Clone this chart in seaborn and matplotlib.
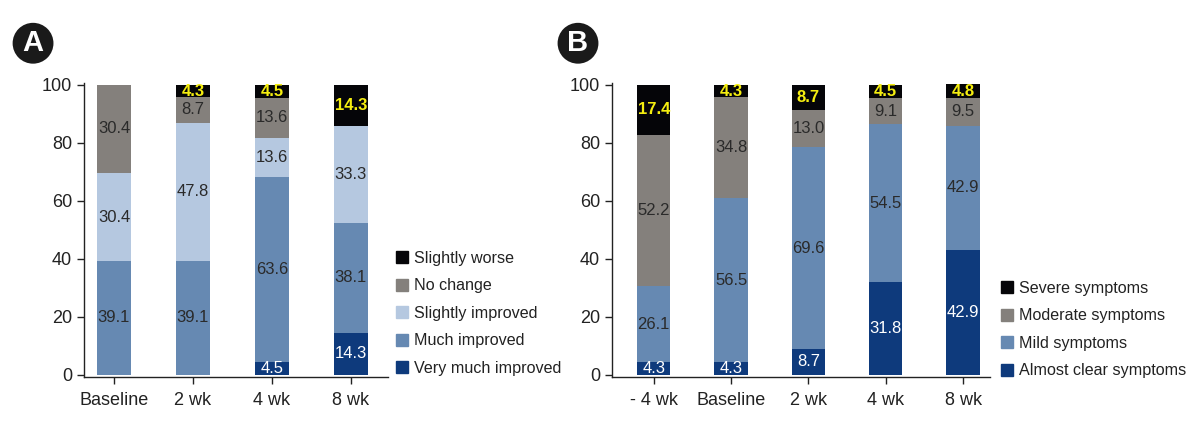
import numpy as np
import matplotlib
matplotlib.use('Agg')
import matplotlib.pyplot as plt
import seaborn as sns
from matplotlib.patches import Patch

# panel A data (percent)
cats_a = ['Baseline', '2 wk', '4 wk', '8 wk']
very_much_improved = [0, 0, 4.5, 14.3]
much_improved = [39.1, 39.1, 63.6, 38.1]
slightly_improved = [30.4, 47.8, 13.6, 33.3]
no_change = [30.4, 8.7, 13.6, 0]
slightly_worse = [0, 4.3, 4.5, 14.3]

# panel B data (percent)
cats_b = ['- 4 wk', 'Baseline', '2 wk', '4 wk', '8 wk']
almost_clear = [4.3, 4.3, 8.7, 31.8, 42.9]
mild = [26.1, 56.5, 69.6, 54.5, 42.9]
moderate = [52.2, 34.8, 13.0, 9.1, 9.5]
severe = [17.4, 4.3, 8.7, 4.5, 4.8]

c_black = '#050508'
c_gray = '#84807c'
c_light = '#b5c8e0'
c_mid = '#6689b2'
c_dark = '#0e3a7c'

sns.set_style('ticks')
plt.rcParams['font.family'] = ['Liberation Sans', 'DejaVu Sans']

fig = plt.figure(figsize=(11.93, 4.24), dpi=100)
ax_a = fig.add_axes([0.0704, 0.111, 0.2548, 0.693])
ax_b = fig.add_axes([0.513, 0.111, 0.317, 0.693])


def stacked(ax, cats, layers, colors, txtcolors):
    # layers bottom -> top; draw cumulative totals, tallest first
    cum = np.cumsum(np.array(layers), axis=0)
    for i in range(len(layers) - 1, -1, -1):
        sns.barplot(x=cats, y=cum[i], color=colors[i], saturation=1,
                    width=0.43, ax=ax, linewidth=0)
    for i, vals in enumerate(layers):
        for j, v in enumerate(vals):
            if v <= 0:
                continue
            mid = cum[i][j] - v / 2
            tc = txtcolors[i]
            ax.text(j, mid, f'{v:.1f}', ha='center', va='center',
                    fontsize=12, color=tc,
                    fontweight='bold' if tc == '#f5ee10' else 'normal')
    ax.set_ylim(-0.8, 100.5)
    ax.set_yticks([0, 20, 40, 60, 80, 100])
    ax.tick_params(axis='both', labelsize=13, length=5, width=1,
                   color='#222222', labelcolor='#222222')
    ax.tick_params(axis='x', pad=6)
    for s in ['top', 'right']:
        ax.spines[s].set_visible(False)
    for s in ['left', 'bottom']:
        ax.spines[s].set_color('#222222')
        ax.spines[s].set_linewidth(1)
    ax.set_xlabel('')
    ax.set_ylabel('')


stacked(ax_a, cats_a,
        [very_much_improved, much_improved, slightly_improved, no_change, slightly_worse],
        [c_dark, c_mid, c_light, c_gray, c_black],
        ['white', '#2a2a2a', '#2a2a2a', '#2a2a2a', '#f5ee10'])
ax_a.set_xlim(-0.38, 3.47)

stacked(ax_b, cats_b,
        [almost_clear, mild, moderate, severe],
        [c_dark, c_mid, c_gray, c_black],
        ['white', '#2a2a2a', '#2a2a2a', '#f5ee10'])
ax_b.set_xlim(-0.54, 4.35)

leg_a = ['Slightly worse', 'No change', 'Slightly improved', 'Much improved', 'Very much improved']
handles_a = [Patch(color=c) for c in [c_black, c_gray, c_light, c_mid, c_dark]]
fig.legend(handles_a, leg_a, loc='upper left', bbox_to_anchor=(0.3195, 0.443),
           frameon=False, fontsize=11.6, handlelength=0.75, handleheight=0.75,
           handletextpad=0.4, labelspacing=0.78, labelcolor='#222222')

leg_b = ['Severe symptoms', 'Moderate symptoms', 'Mild symptoms', 'Almost clear symptoms']
handles_b = [Patch(color=c) for c in [c_black, c_gray, c_mid, c_dark]]
fig.legend(handles_b, leg_b, loc='upper left', bbox_to_anchor=(0.8265, 0.372),
           frameon=False, fontsize=11.6, handlelength=0.75, handleheight=0.75,
           handletextpad=0.4, labelspacing=0.78, labelcolor='#222222')

for x, letter in [(0.0277, 'A'), (0.4845, 'B')]:
    fig.text(x, 0.898, letter, ha='center', va='center', fontsize=21,
             fontweight='bold', color='white',
             bbox=dict(boxstyle='circle,pad=0.22', fc='#1a1a1a', ec='none'))

fig.savefig('out.png', dpi=100)
